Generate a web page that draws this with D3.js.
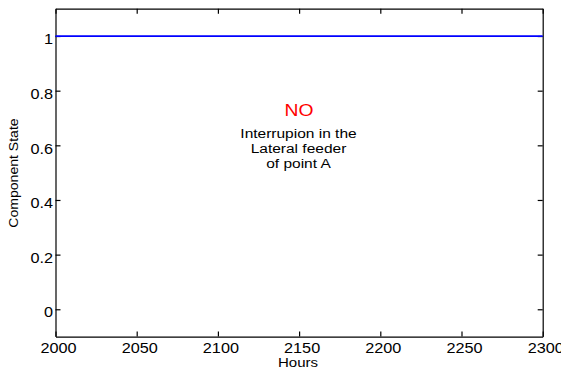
<!DOCTYPE html>
<html>
<head>
<meta charset="utf-8">
<script src="https://cdn.jsdelivr.net/npm/d3@7"></script>
<style>
 body { margin: 0; background: #fff; }
 text { font-family: "Liberation Sans", Arial, sans-serif; }
</style>
</head>
<body>
<svg id="chart"></svg>
<script>
const hours = [2000, 2050, 2100, 2150, 2200, 2250, 2300]
const state = [1, 1, 1, 1, 1, 1, 1]
const xTicks = [2000, 2050, 2100, 2150, 2200, 2250, 2300]
const yTicks = [0, 0.2, 0.4, 0.6, 0.8, 1]
const noteLines = ["Interrupion in the", "Lateral feeder", "of point A"]

const width = 561, height = 371
const margin = {top: 8.7, right: 18.3, bottom: 34.4, left: 55.5}

const svg = d3.select("#chart")
    .attr("width", width)
    .attr("height", height)

const x = d3.scaleLinear().domain([2000, 2300]).range([margin.left, width - margin.right])
const y = d3.scaleLinear().domain([-0.1, 1.1]).range([height - margin.bottom, margin.top])

const fmt = d => d3.format("")(d)

// the original figure is stretched sideways, so widen every text a bit
function stretch(sel, k) {
    sel.each(function() {
        const w = this.getComputedTextLength()
        d3.select(this).attr("textLength", w * k).attr("lengthAdjust", "spacingAndGlyphs")
    })
}

svg.append("g")
   .attr("class", "xaxis")
   .attr("transform", `translate(0,${y(-0.1)})`)
   .call(d3.axisBottom(x).tickValues(xTicks).tickSizeInner(-5).tickSizeOuter(0).tickPadding(6).tickFormat(fmt))
svg.append("g")
   .attr("class", "yaxis")
   .attr("transform", `translate(${x(2000)},0)`)
   .call(d3.axisLeft(y).tickValues(yTicks).tickSizeInner(-5).tickSizeOuter(0).tickPadding(2.5).tickFormat(fmt))
svg.append("g")
   .attr("transform", `translate(0,${y(1.1)})`)
   .call(d3.axisTop(x).tickValues(xTicks).tickSizeInner(-5).tickSizeOuter(0).tickFormat(""))
svg.append("g")
   .attr("transform", `translate(${x(2300)},0)`)
   .call(d3.axisRight(y).tickValues(yTicks).tickSizeInner(-5).tickSizeOuter(0).tickFormat(""))

svg.selectAll(".tick text")
   .attr("font-size", "14px")
   .attr("fill", "#000")
   .attr("font-family", "Liberation Sans, Arial, sans-serif")
svg.selectAll(".xaxis .tick text").attr("dx", 2.5)
svg.selectAll(".yaxis .tick text").attr("dy", "0.55em")
svg.selectAll(".domain, .tick line").attr("stroke", "#000").attr("stroke-width", 1.2)
stretch(svg.selectAll(".xaxis .tick text, .yaxis .tick text"), 1.16)

svg.append("path")
   .datum(hours.map((h, i) => [h, state[i]]))
   .attr("fill", "none")
   .attr("stroke", "#0000ff")
   .attr("stroke-width", 1.8)
   .attr("d", d3.line().x(d => x(d[0])).y(d => y(d[1])))

svg.append("text")
   .attr("x", 298)
   .attr("y", 367)
   .attr("text-anchor", "middle")
   .attr("font-size", "12px")
   .text("Hours")
   .call(stretch, 1.25)

svg.append("text")
   .attr("transform", `translate(17.5,173) rotate(-90)`)
   .attr("text-anchor", "middle")
   .attr("font-size", "12px")
   .text("Component State")
   .call(stretch, 1.17)

svg.append("text")
   .attr("x", 299)
   .attr("y", 116)
   .attr("text-anchor", "middle")
   .attr("font-size", "16.5px")
   .attr("fill", "#ff0000")
   .text("NO")
   .call(stretch, 1.17)

svg.selectAll("text.note")
   .data(noteLines)
   .join("text")
   .attr("class", "note")
   .attr("x", 298.5)
   .attr("y", (d, i) => 137.7 + i * 15.3)
   .attr("text-anchor", "middle")
   .attr("font-size", "12.5px")
   .text(d => d)
   .call(stretch, 1.24)
</script>
</body>
</html>
